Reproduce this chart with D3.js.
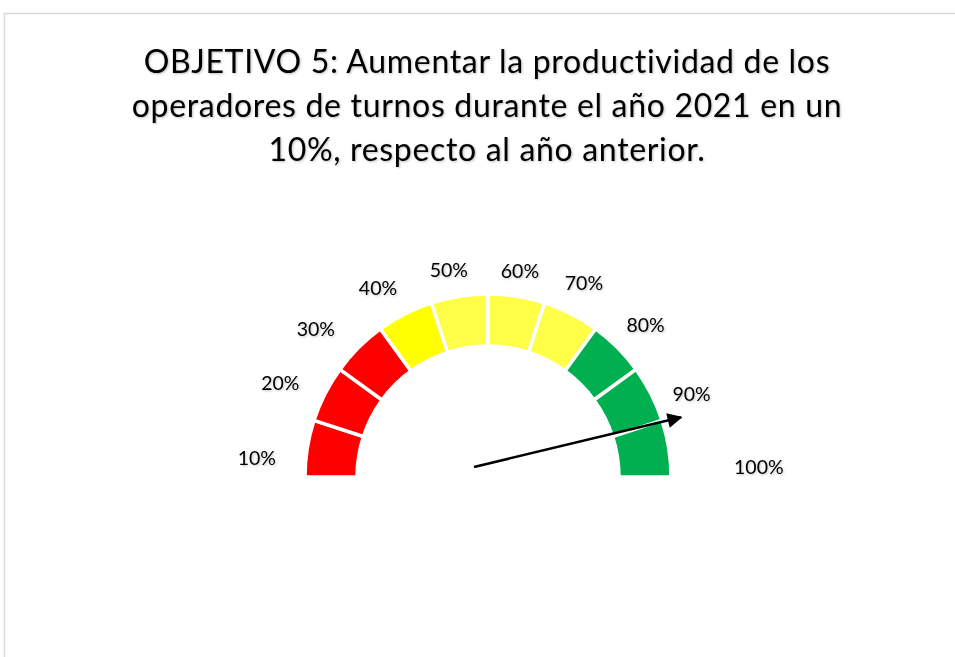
<!DOCTYPE html>
<html>
<head>
<meta charset="utf-8">
<script src="https://cdn.jsdelivr.net/npm/d3@7"></script>
<style>
  body { margin: 0; background: #fff; }
  text { font-family: Lato, "Open Sans", sans-serif; fill: #000; font-variant-ligatures: none; }
</style>
</head>
<body>
<div id="chart"></div>
<script>
// Data
const titleLines = [
    'OBJETIVO 5: Aumentar la productividad de los',
    'operadores de turnos durante el año 2021 en un',
    '10%, respecto al año anterior.'
];
const segmentLabels = ['10%', '20%', '30%', '40%', '50%', '60%', '70%', '80%', '90%', '100%'];
const segmentValues = [1, 1, 1, 1, 1, 1, 1, 1, 1, 1];
const segmentColors = ['#FF0000', '#FF0000', '#FF0000', '#FFFF00', '#FFFF47', '#FFFF47', '#FFFF47', '#00B050', '#00B050', '#00B050'];
const needleValue = 0.925;

const width = 955, height = 657;
const cx = 488, cy = 477;
const outerR = 183, innerR = 131;

const svg = d3.select('#chart').append('svg')
    .attr('width', width)
    .attr('height', height);

// soft shadow like the office text effect
const defs = svg.append('defs');
defs.append('filter')
    .attr('id', 'shadow')
    .attr('x', '-10%').attr('y', '-20%').attr('width', '130%').attr('height', '150%')
    .append('feDropShadow')
    .attr('dx', 1).attr('dy', 1).attr('stdDeviation', 0.8)
    .attr('flood-color', '#000').attr('flood-opacity', 0.25);

defs.append('marker')
    .attr('id', 'arrow')
    .attr('viewBox', '0 0 10 10')
    .attr('refX', 9).attr('refY', 5)
    .attr('markerWidth', 7).attr('markerHeight', 6)
    .attr('markerUnits', 'strokeWidth')
    .attr('orient', 'auto')
    .append('path')
    .attr('d', 'M0,0 L10,5 L0,10 Z')
    .attr('fill', '#000');

// Frame
svg.append('path')
    .attr('d', 'M4.5,' + height + ' L4.5,13.5 L' + width + ',13.5')
    .attr('fill', 'none')
    .attr('stroke', '#d9d9d9')
    .attr('stroke-width', 1.5);

// Title
svg.append('g')
    .selectAll('text')
    .data(titleLines)
    .enter().append('text')
    .attr('x', 487)
    .attr('y', (d, i) => 73 + i * 44)
    .attr('text-anchor', 'middle')
    .attr('font-size', 32)
    .attr('letter-spacing', 0.68)
    .attr('filter', 'url(#shadow)')
    .text(d => d);

// Gauge
const gauge = svg.append('g')
    .attr('transform', 'translate(' + cx + ',' + cy + ')');

const pie = d3.pie()
    .sort(null)
    .startAngle(-Math.PI / 2)
    .endAngle(Math.PI / 2);

const arc = d3.arc()
    .innerRadius(innerR)
    .outerRadius(outerR);

gauge.selectAll('.seg')
    .data(pie(segmentValues))
    .enter().append('path')
    .attr('class', 'seg')
    .attr('d', arc)
    .attr('fill', (d, i) => segmentColors[i])
    .attr('stroke', '#fff')
    .attr('stroke-width', 3.5);

// Labels: evenly stepped angle, with the small drift the original layout has
const labelAngle = d3.scaleLinear()
    .domain([0, segmentLabels.length - 1])
    .range([4.7, 177.9]);
const angleDrift = [0, 0.4, -2.5, -2.6, -2.4, -2.1, -3.8, -3.4, -0.9, 0];
const labelRadius = [232, 228, 227, 219, 211, 208, 216, 219, 220, 271];

function labelPos(i) {
    const t = (labelAngle(i) + angleDrift[i]) * Math.PI / 180;
    return [-labelRadius[i] * Math.cos(t), -labelRadius[i] * Math.sin(t)];
}

gauge.selectAll('.lbl')
    .data(segmentLabels)
    .enter().append('text')
    .attr('class', 'lbl')
    .attr('x', (d, i) => labelPos(i)[0])
    .attr('y', (d, i) => labelPos(i)[1])
    .attr('dy', '0.35em')
    .attr('text-anchor', 'middle')
    .attr('font-size', 19.5)
    .attr('filter', 'url(#shadow)')
    .text(d => d);

// Needle
const needleAngle = d3.scaleLinear()
    .domain([0, 1])
    .range([-Math.PI / 2, Math.PI / 2]);
const pivot = [-14, -10], needleLen = 213;
const a = needleAngle(needleValue);

gauge.append('line')
    .attr('x1', pivot[0])
    .attr('y1', pivot[1])
    .attr('x2', pivot[0] + needleLen * Math.sin(a))
    .attr('y2', pivot[1] - needleLen * Math.cos(a))
    .attr('stroke', '#000')
    .attr('stroke-width', 2.5)
    .attr('marker-end', 'url(#arrow)');
</script>
</body>
</html>
